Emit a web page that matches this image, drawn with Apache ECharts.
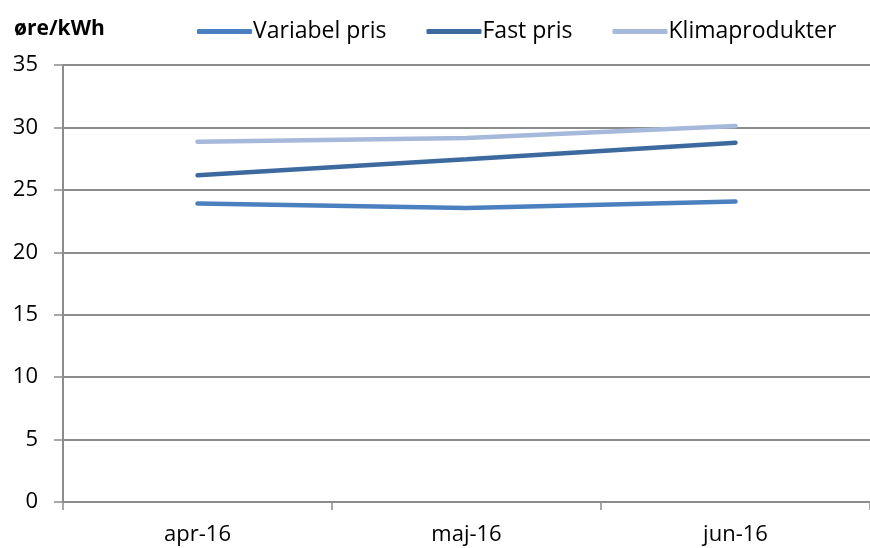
<!DOCTYPE html>
<html><head><meta charset="utf-8">
<script src="https://cdn.jsdelivr.net/npm/echarts@6/dist/echarts.min.js"></script>
<style>html,body{margin:0;padding:0;background:#fff}#c{width:870px;height:548px}</style>
</head><body><div id="c"></div>
<script>
const categories = ['apr-16', 'maj-16', 'jun-16'];
const variabelPris = [23.9, 23.55, 24.07];
const fastPris = [26.17, 27.45, 28.78];
const klimaprodukter = [28.86, 29.15, 30.12];
const seriesNames = ['Variabel pris', 'Fast pris', 'Klimaprodukter'];
const colors = ['#4a80c0', '#3d6a9e', '#a6b9da'];
const FONT = 'Open Sans';
const chart = echarts.init(document.getElementById('c'));
const mk = (name, data, color) => ({
  name, type: 'line', data, symbol: 'none', smooth: false,
  lineStyle: { color, width: 4.5, cap: 'round' }, itemStyle: { color }
});
chart.setOption({
  animation: false,
  textStyle: { fontFamily: FONT },
  title: { text: 'øre/kWh', left: 9, top: 14, textStyle: { fontFamily: FONT, fontWeight: 'bold', fontSize: 21, color: '#000' } },
  legend: {
    left: 192, top: 15, itemWidth: 55, itemHeight: 5, itemGap: 40, icon: 'roundRect',
    textStyle: { fontFamily: FONT, fontSize: 23, color: '#000', padding: [0, 0, 0, -4] },
    data: seriesNames
  },
  grid: { left: 63, right: -9, top: 65, bottom: 46, containLabel: false },
  xAxis: {
    type: 'category', data: categories, boundaryGap: true,
    axisLine: { lineStyle: { color: '#8c8c8c', width: 2 } },
    axisTick: { show: true, length: 8, lineStyle: { color: '#8c8c8c', width: 1.5 } },
    axisLabel: { fontFamily: FONT, fontSize: 22, color: '#000', margin: 22 }
  },
  yAxis: {
    type: 'value', min: 0, max: 35, interval: 5,
    axisLine: { show: true, lineStyle: { color: '#8c8c8c', width: 2 } },
    axisTick: { show: true, length: 9, lineStyle: { color: '#8c8c8c', width: 1.5 } },
    axisLabel: { fontFamily: FONT, fontSize: 22, color: '#000', margin: 25 },
    splitLine: { lineStyle: { color: '#8c8c8c', width: 2 } }
  },
  series: [
    mk(seriesNames[0], variabelPris, colors[0]),
    mk(seriesNames[1], fastPris, colors[1]),
    mk(seriesNames[2], klimaprodukter, colors[2])
  ]
});
</script></body></html>
